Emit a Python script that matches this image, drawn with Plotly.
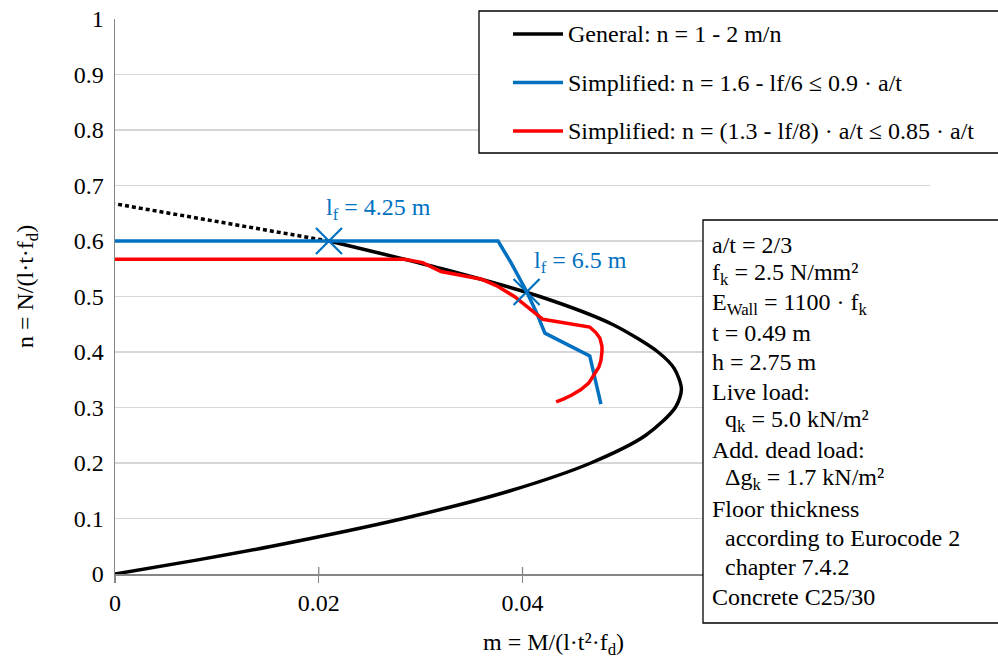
import plotly.graph_objects as go

# ---------------- data ----------------
general_m = [0.0, 0.0080, 0.0154, 0.0283, 0.0388, 0.0467, 0.0521, 0.0550, 0.0556,
             0.0549, 0.0533, 0.0488, 0.0417, 0.0321, 0.0210]
general_n = [0.0, 0.025, 0.05, 0.10, 0.15, 0.20, 0.25, 0.30, 0.333,
             0.37, 0.40, 0.45, 0.50, 0.55, 0.60]
general_ext_m = [0.0210, 0.0116, 0.0054, 0.0]
general_ext_n = [0.600, 0.630, 0.650, 0.667]

blue_m = [0.0, 0.0376, 0.0389, 0.0404, 0.0414, 0.0422, 0.0466, 0.0477]
blue_n = [0.600, 0.600, 0.560, 0.509, 0.470, 0.434, 0.393, 0.306]

red_m = [0.0, 0.0284, 0.0302, 0.0320, 0.0360, 0.0376, 0.0392, 0.0409, 0.0420,
         0.0466, 0.0472, 0.0476, 0.0478, 0.0478, 0.0477, 0.0475, 0.0470, 0.0465,
         0.0457, 0.0448, 0.0440, 0.0433]
red_n = [0.567, 0.567, 0.561, 0.545, 0.531, 0.518, 0.500, 0.476, 0.459,
         0.445, 0.435, 0.425, 0.410, 0.400, 0.385, 0.373, 0.357, 0.344,
         0.332, 0.322, 0.315, 0.310]

marker_m = [0.0210, 0.0404]
marker_n = [0.600, 0.508]
marker_labels = ["l<sub>f</sub> = 4.25 m", "l<sub>f</sub> = 6.5 m"]

series_names = ["General: n = 1 - 2 m/n",
                "Simplified: n = 1.6 - lf/6 ≤ 0.9 · a/t",
                "Simplified: n = (1.3 - lf/8) · a/t ≤ 0.85 · a/t"]
series_colors = ["#000000", "#0070C0", "#FF0000"]

x_tickvals = [0, 0.02, 0.04]
x_ticktext = ["0", "0.02", "0.04"]
y_tickvals = [0, 0.1, 0.2, 0.3, 0.4, 0.5, 0.6, 0.7, 0.8, 0.9, 1.0]
y_ticktext = ["0", "0.1", "0.2", "0.3", "0.4", "0.5", "0.6", "0.7", "0.8", "0.9", "1"]

info_lines = ["a/t = 2/3",
              "f<sub>k</sub> = 2.5 N/mm²",
              "E<sub>Wall</sub> = 1100 · f<sub>k</sub>",
              "t = 0.49 m",
              "h = 2.75 m",
              "Live load:",
              "q<sub>k</sub> = 5.0 kN/m²",
              "Add. dead load:",
              "Δg<sub>k</sub> = 1.7 kN/m²",
              "Floor thickness",
              "according to Eurocode 2",
              "chapter 7.4.2",
              "Concrete C25/30"]
info_indent = [0, 0, 0, 0, 0, 0, 1, 0, 1, 0, 1, 1, 0]

# ---------------- layout geometry ----------------
W, H = 998, 661
L, R, T, B = 115, 68, 19, 87
PW, PH = W - L - R, H - T - B
FONT = "Liberation Serif"
FS = 24


def px(xp):
    return (xp - L) / PW


def py(yp):
    return (H - B - yp) / PH


fig = go.Figure()

fig.add_trace(go.Scatter(x=general_m, y=general_n, mode="lines",
                         line=dict(color=series_colors[0], width=3.5, shape="spline", smoothing=0.8),
                         showlegend=False, hoverinfo="skip"))
fig.add_trace(go.Scatter(x=general_ext_m, y=general_ext_n, mode="lines",
                         line=dict(color=series_colors[0], width=3.5, dash="4px,3px"),
                         showlegend=False, hoverinfo="skip"))
fig.add_trace(go.Scatter(x=blue_m, y=blue_n, mode="lines",
                         line=dict(color=series_colors[1], width=3.5),
                         showlegend=False, hoverinfo="skip"))
fig.add_trace(go.Scatter(x=red_m, y=red_n, mode="lines",
                         line=dict(color=series_colors[2], width=3.5),
                         showlegend=False, hoverinfo="skip"))
fig.add_trace(go.Scatter(x=marker_m, y=marker_n, mode="markers",
                         marker=dict(symbol="x-thin", size=26,
                                     line=dict(color=series_colors[1], width=2.2)),
                         showlegend=False, hoverinfo="skip"))

shapes = []
annotations = []

# inside halves of x ticks (ticks cross the axis)
for tv in x_tickvals[1:]:
    shapes.append(dict(type="line", xref="x", yref="y", x0=tv, x1=tv,
                       ysizemode="pixel", yanchor=0, y0=0, y1=7,
                       line=dict(color="#868686", width=1.3)))

# legend box
shapes.append(dict(type="rect", xref="paper", yref="paper",
                   x0=px(479), x1=px(1040), y0=py(153), y1=py(11),
                   fillcolor="white", line=dict(color="black", width=1.3),
                   layer="above"))
legend_rows = [34, 82.5, 131]
for name, col, ry in zip(series_names, series_colors, legend_rows):
    shapes.append(dict(type="line", xref="paper", yref="paper",
                       x0=px(513), x1=px(563), y0=py(ry), y1=py(ry),
                       line=dict(color=col, width=3.5), layer="above"))
    annotations.append(dict(xref="paper", yref="paper", x=px(566), y=py(ry),
                            xanchor="left", yanchor="middle", showarrow=False,
                            text=name, font=dict(family=FONT, size=FS, color="black")))

# info box
shapes.append(dict(type="rect", xref="paper", yref="paper",
                   x0=px(703), x1=px(1040), y0=py(623), y1=py(220),
                   fillcolor="white", line=dict(color="black", width=1.3),
                   layer="above"))
for i, (txt, ind) in enumerate(zip(info_lines, info_indent)):
    annotations.append(dict(xref="paper", yref="paper",
                            x=px(710 + 13 * ind), y=py(245 + 29.3 * i),
                            xanchor="left", yanchor="middle", showarrow=False,
                            text=txt, font=dict(family=FONT, size=FS, color="black")))

# marker labels
for m, n, lab, dx, dy in zip(marker_m, marker_n, marker_labels, [-5, 5], [32, 30]):
    annotations.append(dict(xref="x", yref="y", x=m, y=n, xanchor="left",
                            yanchor="middle", showarrow=False, xshift=dx, yshift=dy,
                            text=lab, font=dict(family=FONT, size=FS, color=series_colors[1])))

# axis titles
annotations.append(dict(xref="paper", yref="paper", x=px(553), y=py(644),
                        xanchor="center", yanchor="middle", showarrow=False,
                        text="m = M/(l·t²·f<sub>d</sub>)",
                        font=dict(family=FONT, size=FS, color="black")))
annotations.append(dict(xref="paper", yref="paper", x=px(27), y=py(287),
                        xanchor="center", yanchor="middle", showarrow=False,
                        textangle=-90, text="n = N/(l·t·f<sub>d</sub>)",
                        font=dict(family=FONT, size=FS, color="black")))

fig.update_layout(
    width=W, height=H,
    margin=dict(l=L, r=R, t=T, b=B, pad=0, autoexpand=False),
    paper_bgcolor="white", plot_bgcolor="white",
    font=dict(family=FONT, size=FS, color="black"),
    showlegend=False,
    shapes=shapes, annotations=annotations,
    xaxis=dict(range=[0, 0.08], tickvals=x_tickvals, ticktext=x_ticktext,
               showgrid=False, zeroline=False, showline=True, automargin=False,
               linecolor="#868686", linewidth=1.5,
               ticks="outside", ticklen=7, tickwidth=1.3, tickcolor="#868686",
               ticklabelstandoff=0,
               tickfont=dict(family=FONT, size=FS, color="black"), fixedrange=True),
    yaxis=dict(range=[0, 1], tickvals=y_tickvals, ticktext=y_ticktext,
               showgrid=True, gridcolor="#D6D6D6", gridwidth=1.3, automargin=False,
               zeroline=False, showline=True, linecolor="#868686", linewidth=1.5,
               ticks="", ticklabelstandoff=5,
               tickfont=dict(family=FONT, size=FS, color="black"), fixedrange=True),
)

fig.write_html("out.html", config={"displayModeBar": False, "staticPlot": True},
               post_script="document.body.style.margin='0px';document.body.style.overflow='hidden';")
